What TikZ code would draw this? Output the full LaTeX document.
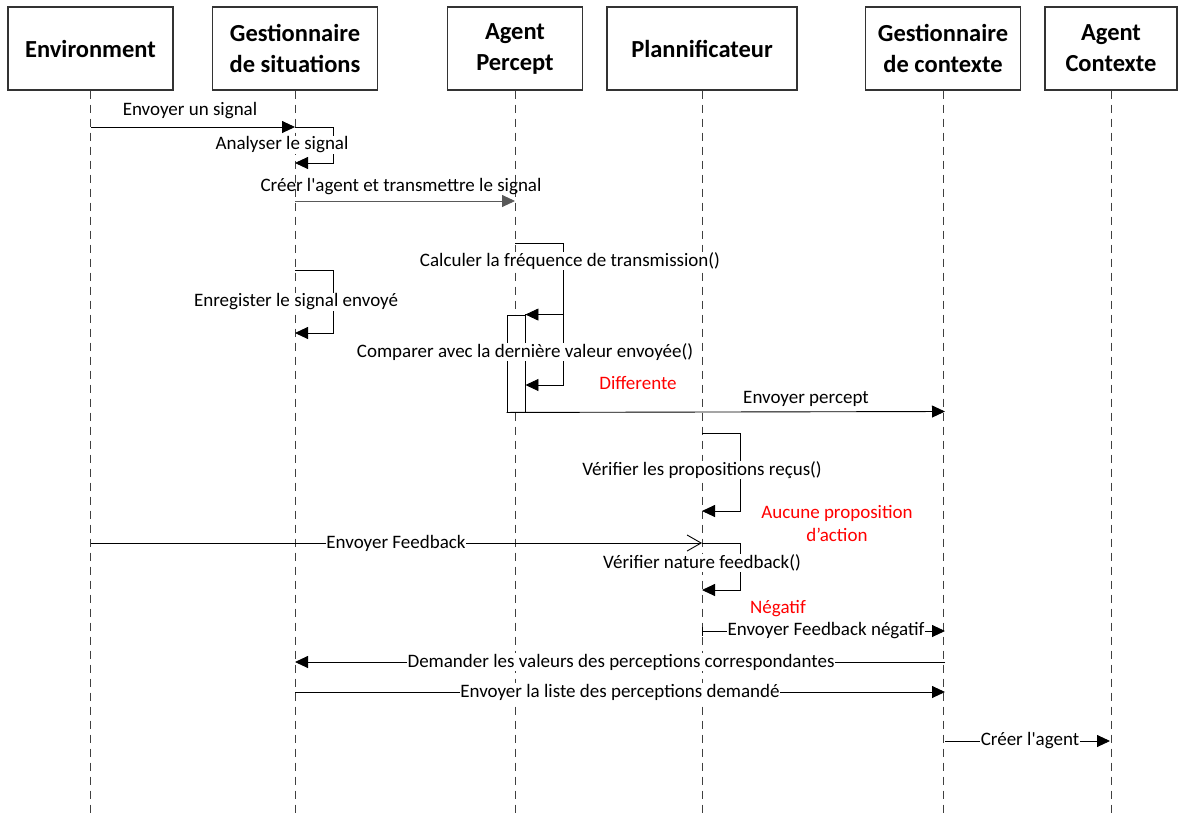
\documentclass[tikz,border=0pt]{standalone}
\usepackage{fontspec}
\setmainfont{Carlito}[Ligatures=TeXOff]
\usetikzlibrary{arrows.meta}
\begin{document}
\begin{tikzpicture}[x=1pt,y=-1pt,
  actor/.style={draw=black!80, line width=1.2pt, minimum width=#1, minimum height=83pt, font=\fontsize{24.5}{31}\selectfont\bfseries, align=center, inner sep=0pt},
  life/.style={draw=black!75, dash pattern=on 8pt off 6pt, line width=0.9pt},
  tip/.tip={Triangle[length=13pt,width=12pt]},
  msg/.style={draw=black, line width=0.9pt, -tip},
  openmsg/.style={draw=black, line width=0.9pt, -{Straight Barb[length=14pt,width=16pt,line width=0.9pt]}},
  lbl/.style={font=\fontsize{19}{22}\selectfont, fill=white, inner sep=0.5pt},
  top/.style={font=\fontsize{19}{22}\selectfont, inner sep=0.5pt},
  note/.style={font=\fontsize{19}{23}\selectfont, text=red, align=center, inner sep=1pt},
  actbar/.style={draw=black, line width=0.9pt, fill=white, minimum width=18pt, minimum height=97pt, inner sep=0pt}
]
\useasboundingbox (0,0) rectangle (1184,820);

% actors
\node[actor=165pt] (env) at (90.5,48.5) {Environment};
\node[actor=165pt] (gs) at (295,48.5) {Gestionnaire\\de situations};
\node[actor=135pt] (ap) at (515,48.5) {Agent\\Percept};
\node[actor=190pt] (pl) at (702,48.5) {Plannificateur};
\node[actor=155pt] (gc) at (943,48.5) {Gestionnaire\\de contexte};
\node[actor=132pt] (ac) at (1111,48.5) {Agent\\Contexte};

% lifeline ends
\coordinate (envEnd) at (env.center |- 0,815);
\coordinate (gsEnd) at (gs.center |- 0,815);
\coordinate (apEnd) at (ap.center |- 0,815);
\coordinate (plEnd) at (pl.center |- 0,815);
\coordinate (gcEnd) at (gc.center |- 0,815);
\coordinate (acEnd) at (ac.center |- 0,815);
\draw[life] (env.south) -- (envEnd);
\draw[life] (gs.south) -- (gsEnd);
\draw[life] (ap.south) -- (apEnd);
\draw[life] (pl.south) -- (plEnd);
\draw[life] (gc.south) -- (gcEnd);
\draw[life] (ac.south) -- (acEnd);

% message points
\coordinate (e1) at (91,127);   \coordinate (g1) at (295,127);
\coordinate (g2) at (295,163);
\coordinate (g3) at (295,201);  \coordinate (a1) at (515,201);
\coordinate (g4) at (295,270);  \coordinate (g5) at (295,333);
\coordinate (a2) at (515,243);
\coordinate (p1) at (702,433);  \coordinate (p2) at (702,511);
\coordinate (e2) at (91,543);   \coordinate (p3) at (702,543);
\coordinate (p4) at (702,590);
\coordinate (p5) at (702,631);  \coordinate (c2) at (945,631);
\coordinate (c3) at (945,662);  \coordinate (g6) at (295,662);
\coordinate (g7) at (295,692);  \coordinate (c4) at (945,692);
\coordinate (c5) at (945,741);  \coordinate (ac1) at (1110,741);

% activation bar on Agent Percept
\node[actbar] (act) at (516,363.5) {};
\coordinate (actIn) at (act.north east |- 0,385);
\coordinate (c1) at (945,411.5);

% 1 Envoyer un signal
\draw[msg] (e1) -- (g1);
\node[top] (t1) at (190,111) {Envoyer un signal};
% self: Analyser le signal
\draw[msg] (g1) -- ++(38,0) |- (g2);
\node[lbl] (t2) at (282,145) {Analyser le signal};
% Créer l'agent
\draw[msg, draw=black!65] (g3) -- (a1);
\node[top] (t3) at (401,187) {Créer l'agent et transmettre le signal};
% Enregister
\draw[msg] (g4) -- ++(38,0) |- (g5);
\node[lbl] (t4) at (296,302) {Enregister le signal envoyé};
% Calculer
\draw[msg] (a2) -- ++(48,0) |- (act.north east);
\node[lbl] (t5) at (570,261) {Calculer la fréquence de transmission()};
% Comparer
\draw[msg] (act.north east) -- ++(38,0) |- (actIn);
\node[lbl] (t6) at (525,352) {Comparer avec la dernière valeur envoyée()};
\node[note] (n1) at (638,383) {Differente};
% Envoyer percept
\draw[msg] (act.south west) -- (c1);
\node[top] (t7) at (806,399) {Envoyer percept};
% Vérifier propositions
\draw[msg] (p1) -- ++(38,0) |- (p2);
\node[lbl] (t8) at (702,470) {Vérifier les propositions reçus()};
\node[note] (n2) at (837,523) {Aucune proposition\\d’action};
% Envoyer Feedback
\draw[openmsg] (e2) -- (p3);
\node[lbl] (t9) at (396,543) {Envoyer Feedback};
% Vérifier nature
\draw[msg] (p3) -- ++(38,0) |- (p4);
\node[lbl] (t10) at (702,563) {Vérifier nature feedback()};
\node[note] (n3) at (778,609) {Négatif};
% Envoyer Feedback négatif
\draw[msg, {Bar[width=9pt,line width=0.9pt]}-tip] (p5) -- (c2);
\node[lbl] (t11) at (826,631) {Envoyer Feedback négatif};
% Demander
\draw[msg] (c3) -- (g6);
\node[lbl] (t12) at (621,662) {Demander les valeurs des perceptions correspondantes};
% Envoyer la liste
\draw[msg] (g7) -- (c4);
\node[lbl] (t13) at (620,692) {Envoyer la liste des perceptions demandé};
% Créer l'agent
\draw[msg] (c5) -- (ac1);
\node[lbl] (t14) at (1030,741) {Créer l'agent};
\end{tikzpicture}
\end{document}
